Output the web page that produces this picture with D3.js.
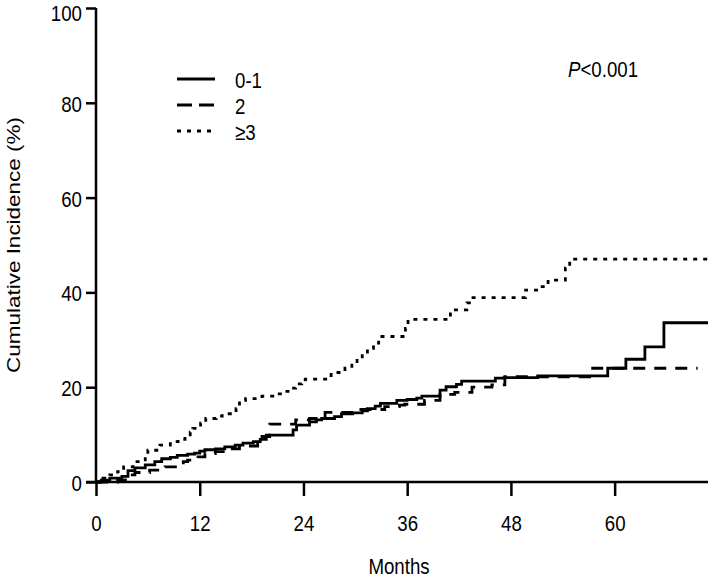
<!DOCTYPE html>
<html><head><meta charset="utf-8">
<script src="https://cdn.jsdelivr.net/npm/d3@7"></script>
<style>body{margin:0;background:#fff}svg{display:block}text{font-family:"Liberation Sans",Arial,sans-serif;fill:#000}</style>
</head><body><svg id="c" width="709" height="580"></svg>
<script>
const xTicks = [0, 12, 24, 36, 48, 60];
const yTicks = [0, 20, 40, 60, 80, 100];
const seriesNames = ["0-1", "2", "\u22653"];

const t01 = [0, 0.6, 1.6, 3.0, 3.7, 4.5, 5.7, 6.8, 7.6, 8.6, 9.4, 10.6, 11.4, 12.0, 12.6, 13.8, 14.9, 16.1, 17.0, 18.2, 19.0, 19.7, 22.8, 23.2, 24.7, 25.5, 26.1, 27.6, 28.4, 29.7, 30.8, 31.4, 32.3, 32.9, 34.8, 36.0, 37.1, 37.7, 39.8, 40.5, 41.7, 42.3, 46.2, 47.2, 51.1, 59.2, 61.3, 63.5, 65.7, 70.8];
const v01 = [0, 0.4, 0.8, 1.2, 2.4, 3.0, 3.6, 4.3, 4.9, 5.2, 5.6, 5.9, 6.1, 6.5, 6.8, 7.0, 7.4, 7.8, 8.2, 8.5, 9.0, 9.9, 11.0, 12.0, 12.7, 13.1, 13.4, 13.8, 14.4, 14.6, 15.0, 15.5, 16.0, 16.6, 17.2, 17.4, 17.7, 18.1, 19.4, 20.1, 20.6, 21.3, 21.9, 22.0, 22.4, 24.0, 25.9, 28.5, 33.6, 33.6];

const t2 = [0, 2.5, 3.4, 4.5, 6.2, 8.0, 10.1, 10.6, 11.8, 12.6, 13.8, 14.9, 16.6, 18.7, 19.2, 20.1, 23.1, 24.7, 26.5, 29.9, 33.4, 35.1, 35.7, 38.0, 39.8, 41.5, 43.5, 45.8, 47.3, 57.1, 69.6];
const v2 = [0, 0.4, 1.5, 2.0, 2.5, 3.2, 4.3, 4.6, 5.3, 6.0, 6.4, 7.0, 7.6, 8.5, 9.6, 12.2, 13.1, 13.4, 14.7, 15.3, 15.9, 16.2, 16.4, 17.2, 18.5, 18.9, 20.0, 20.5, 22.2, 24.0, 24.0];

const t3 = [0, 0.8, 1.6, 2.5, 3.2, 4.3, 5.7, 6.0, 7.4, 8.6, 9.5, 10.3, 10.9, 11.2, 12.1, 12.7, 13.9, 14.6, 16.2, 16.6, 17.3, 19.2, 20.8, 21.8, 22.4, 23.1, 23.8, 24.2, 27.2, 28.8, 29.6, 30.2, 30.8, 31.4, 32.1, 32.7, 35.8, 36.1, 41.0, 42.9, 43.2, 49.7, 51.3, 52.3, 54.3, 54.8, 70.8];
const v3 = [0, 0.8, 1.5, 2.2, 3.2, 4.3, 5.7, 6.7, 7.8, 8.5, 9.0, 9.6, 10.5, 11.3, 12.4, 13.4, 13.9, 14.4, 15.5, 17.2, 17.6, 18.1, 18.6, 19.1, 19.8, 20.7, 21.2, 21.7, 23.1, 24.0, 25.0, 26.4, 27.1, 28.2, 29.3, 30.7, 32.4, 34.3, 36.3, 37.8, 38.9, 40.5, 41.2, 42.6, 45.1, 47.0, 47.0];

const FS = 22.5, SX = 0.83;
const svg = d3.select("#c");
const x = d3.scaleLinear().domain([0, 70.8]).range([96, 708]);
const y = d3.scaleLinear().domain([0, 100]).range([482, 8]);

// axes
const gx = svg.append("g").attr("transform", "translate(0,482)")
  .call(d3.axisBottom(x).tickValues(xTicks).tickSize(14).tickSizeOuter(0));
const gy = svg.append("g").attr("transform", "translate(96,0)")
  .call(d3.axisLeft(y).tickValues(yTicks).tickSize(10).tickSizeOuter(0));
[gx, gy].forEach(g => {
  g.selectAll("path.domain").attr("stroke", "#000").attr("stroke-width", 2.5);
  g.selectAll(".tick line").attr("stroke", "#000").attr("stroke-width", 2.5);
  g.selectAll(".tick text").attr("font-size", FS).attr("font-family", "Liberation Sans, Arial, sans-serif").attr("fill", "#000");
});
gx.selectAll(".tick text").attr("x", 0).attr("y", 0).attr("dy", 0)
  .attr("transform", `translate(0,49) scale(${SX},1)`);
gy.selectAll(".tick text").attr("x", 0).attr("y", 0)
  .attr("dy", d => d === 100 ? "0.56em" : "0.38em")
  .attr("transform", `translate(-14,0) scale(${SX},1)`);
gx.select("path.domain").attr("d", "M86,0H708");
gy.select("path.domain").attr("d", "M0,8V482");

function stext(px, py, str, anchor) {
  return svg.append("text").attr("transform", `translate(${px},${py}) scale(${SX},1)`)
    .attr("text-anchor", anchor || "start").attr("font-size", FS).text(str);
}
stext(399, 574, "Months", "middle");
svg.append("text").attr("transform", `translate(20,245) scale(${SX},1) rotate(-90)`)
  .attr("text-anchor", "middle").attr("font-size", FS).text("Cumulative Incidence (%)");

const styles = [
  {t: t01, v: v01, dash: null},
  {t: t2, v: v2, dash: "12,9"},
  {t: t3, v: v3, dash: "4,6"}
];
const line = d3.line().x(d => x(d[0])).y(d => y(d[1])).curve(d3.curveStepAfter);
styles.forEach(s => {
  svg.append("path").datum(s.t.map((t, i) => [t, s.v[i]]))
    .attr("d", line).attr("fill", "none").attr("stroke", "#000")
    .attr("stroke-width", 2.8).attr("stroke-dasharray", s.dash);
});

// legend
const legY = [79, 105, 131];
const legDash = [null, "15,7", "4,6"];
seriesNames.forEach((n, i) => {
  svg.append("line").attr("x1", 177).attr("x2", 215).attr("y1", legY[i]).attr("y2", legY[i])
    .attr("stroke", "#000").attr("stroke-width", 2.8).attr("stroke-dasharray", legDash[i]);
  stext(235, legY[i] + 9, n);
});

const p = svg.append("text").attr("transform", `translate(568,77) scale(${SX},1)`).attr("font-size", FS);
p.append("tspan").attr("font-style", "italic").text("P");
p.append("tspan").text("<0.001");
</script></body></html>
